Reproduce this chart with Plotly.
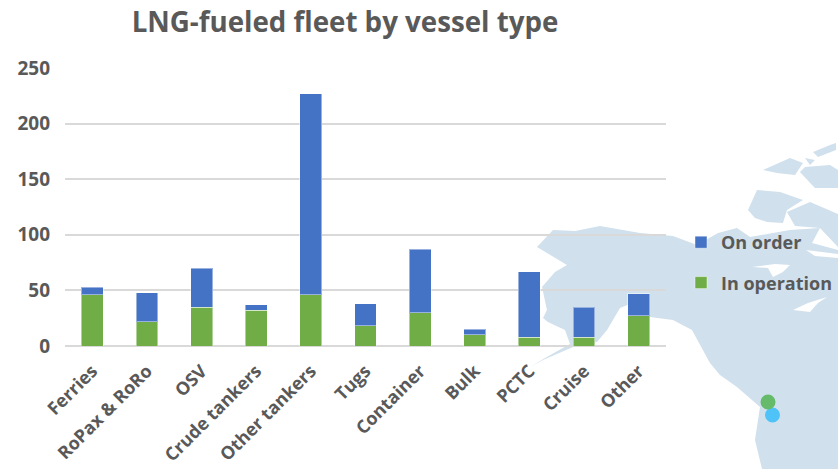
import plotly.graph_objects as go

categories = ["Ferries", "RoPax & RoRo", "OSV", "Crude tankers", "Other tankers", "Tugs",
              "Container", "Bulk", "PCTC", "Cruise", "Other"]
in_operation = [46, 22, 35, 32, 46, 18, 30, 10, 8, 8, 27]
on_order = [7, 26, 35, 5, 181, 20, 57, 5, 59, 27, 20]

W, H = 838, 469
LEFT, RIGHT, TOP, BOTTOM = 65, 666, 68, 346
MAP_COLOR = "#d0e0ed"
TEXT = "#595959"

# Decorative background map, outlined in page pixels
land = [(553,230),(575,231),(600,226),(640,233),(673,236),(697,245),(718,233),(737,228),(750,237),
        (773,233),(790,230),(820,228),(812,243),(838,250),(838,469),(762,469),(755,440),(760,407),
        (737,387),(720,375),(710,363),(692,330),(673,320),(650,317),(630,304),(620,308),(607,330),
        (597,342),(573,347),(543,360),(530,367),(545,358),(570,344),(565,330),(548,322),(543,318),
        (547,310),(542,287),(555,272),(567,265),(537,247)]
islands = [
    [(748,210),(757,190),(780,192),(803,200),(787,210),(783,223),(767,222),(755,218)],
    [(787,212),(810,202),(838,214),(838,247),(820,228),(795,226)],
    [(763,170),(790,158),(803,163),(795,175),(777,173)],
    [(800,172),(805,167),(830,165),(838,170),(838,188),(815,188)],
    [(813,152),(830,145),(836,143),(836,150),(818,157)],
    [(805,158),(815,160),(810,165)],
]
lakes = [
    [(752,267),(775,264),(790,265),(783,272),(773,277),(768,268)],
    [(793,310),(808,303),(827,297),(818,303),(810,312)],
    [(806,250),(838,254),(838,258),(815,256)],
]

def px(x):
    return (x - LEFT) / (W - LEFT)

def py(y):
    return (BOTTOM - y) / (BOTTOM - TOP)

def path(points):
    return "M" + "L".join(f"{px(x):.4f},{py(y):.4f}" for x, y in points) + "Z"

shapes = [dict(type="path", path=path(p), xref="paper", yref="paper", fillcolor=MAP_COLOR,
               line=dict(width=0), layer="below") for p in [land] + islands]
shapes += [dict(type="path", path=path(p), xref="paper", yref="paper", fillcolor="white",
                line=dict(width=0), layer="below") for p in lakes]
for (cx, cy, color) in [(772.5, 415, "#4fc3f7"), (768, 402, "#66bb6a")]:
    r = 7.5
    shapes.append(dict(type="circle", xref="paper", yref="paper", x0=px(cx-r), x1=px(cx+r),
                       y0=py(cy+r), y1=py(cy-r), fillcolor=color, line=dict(width=0), layer="below"))

font = "Open Sans, sans-serif"
fig = go.Figure()
fig.add_bar(name="In operation", x=categories, y=in_operation, legendgroup="a", legendrank=2,
            marker=dict(color="#70ad47", line=dict(color="rgba(255,255,255,0.45)", width=1)))
fig.add_bar(name="On order", x=categories, y=on_order, legendgroup="b", legendrank=1,
            marker=dict(color="#4472c4", line=dict(color="rgba(255,255,255,0.45)", width=1)))
fig.update_layout(
    width=W, height=H, barmode="stack", bargap=0.6,
    paper_bgcolor="rgba(0,0,0,0)", plot_bgcolor="rgba(0,0,0,0)",
    margin=dict(l=LEFT, r=0, t=TOP, b=H-BOTTOM, autoexpand=False),
    font=dict(family=font, color=TEXT),
    title=dict(text="<b>LNG-fueled fleet by vessel type</b>", x=345/W, xanchor="center",
               y=1-22/H, yanchor="middle", font=dict(size=27.7, color=TEXT, family=font)),
    xaxis=dict(domain=[0, px(RIGHT)], tickangle=-45, ticklabelstandoff=10,
               tickfont=dict(size=18, family=font, weight="bold", color=TEXT),
               showline=False, ticks="", showgrid=False, zeroline=False),
    yaxis=dict(range=[0, 250], tickvals=[0, 50, 100, 150, 200, 250], showgrid=True, ticklabelstandoff=14,
               gridcolor="#d9d9d9", gridwidth=2, zeroline=True, zerolinecolor="#d9d9d9", zerolinewidth=2,
               tickfont=dict(size=19, family=font, weight="bold", color=TEXT), ticks="", showline=False),
    legend=dict(x=px(681), xanchor="left", y=py(224), yanchor="top", traceorder="grouped",
                bgcolor="rgba(0,0,0,0)", tracegroupgap=14,
                font=dict(size=18, family=font, weight="bold", color=TEXT)),
    shapes=shapes,
)
fig.write_html("out.html", config=dict(displayModeBar=False),
               post_script="document.body.style.margin='0';document.body.style.overflow='hidden';")
